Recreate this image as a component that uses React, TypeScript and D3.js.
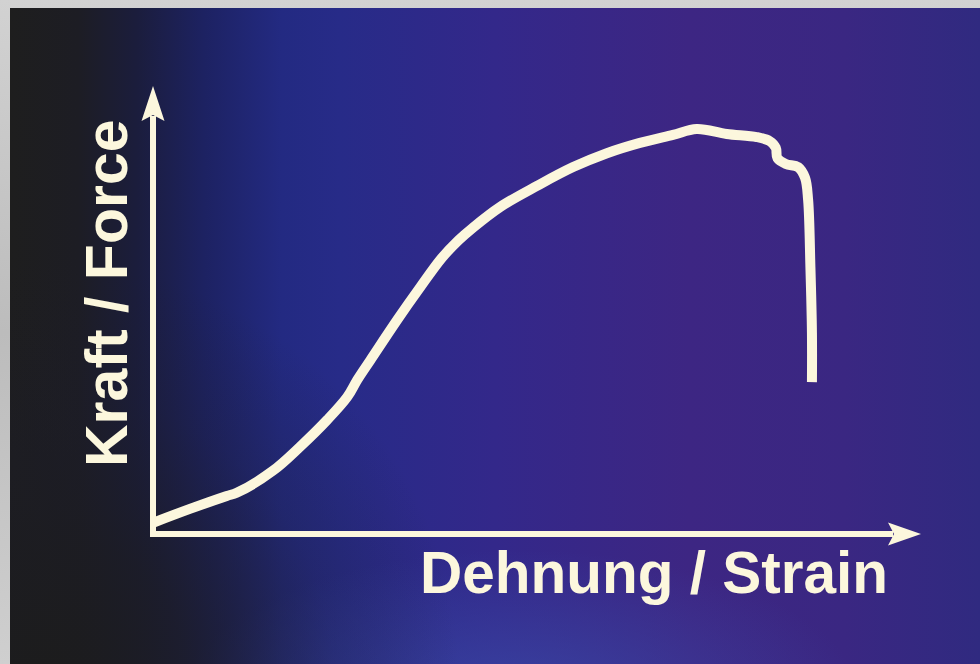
import React from "react";
import * as d3 from "d3";

const W = 980;
const H = 664;

// Strain (x) and force (y) readings, arbitrary units 0..100
const strain = [0, 4.8, 9.6, 10.9, 15.6, 19.1, 22.7, 25.3, 26.6, 28.3, 31.8, 34.8, 37.6, 39.8, 41.6, 45.2, 50.0, 54.7, 59.1, 63.4, 67.7, 70.8, 74.7, 78.6, 80.3, 81.1, 81.3, 82.4, 84.0, 84.9, 85.3, 85.6, 85.8, 85.8];
const force = [2.5, 5.6, 8.5, 9.2, 14.1, 19.4, 25.5, 30.6, 34.4, 38.8, 47.8, 55.1, 61.6, 65.6, 68.3, 73.0, 77.7, 81.9, 85.0, 87.3, 89.1, 90.4, 89.3, 88.6, 87.7, 86.2, 83.9, 82.6, 81.9, 79.5, 74.6, 59.6, 44.9, 33.9];

const xLabel = "Dehnung / Strain";
const yLabel = "Kraft / Force";

const cream = "#fcf7dd";

export default function App() {
  const x = d3.scaleLinear().domain([0, 100]).range([153, 921]);
  const y = d3.scaleLinear().domain([0, 100]).range([534, 86]);

  const pts: [number, number][] = strain.map((s, i) => [s, force[i]]);
  const line = d3
    .line<[number, number]>()
    .x((d) => x(d[0]))
    .y((d) => y(d[1]))
    .curve(d3.curveCatmullRom.alpha(0.5));

  const x0 = x(0);
  const y0 = y(0);
  const xEnd = x(100);
  const yEnd = y(100);

  const yArrow = `M${x0},${yEnd} L${x0 + 11.5},${yEnd + 35} L${x0},${yEnd + 29} L${x0 - 11.5},${yEnd + 35} Z`;
  const xArrow = `M${xEnd},${y0} L${xEnd - 33},${y0 + 11.5} L${xEnd - 27},${y0} L${xEnd - 33},${y0 - 11.5} Z`;

  return (
    <div style={{ position: "absolute", left: 0, top: 0, width: W, height: H }}>
      <svg width={W} height={H} viewBox={`0 0 ${W} ${H}`} style={{ display: "block" }}>
        <defs>
          <linearGradient id="frame" x1="0" y1="0" x2="0" y2="1">
            <stop offset="0" stopColor="#d2d2d2" />
            <stop offset="0.5" stopColor="#bcbcbc" />
            <stop offset="1" stopColor="#cfcfcf" />
          </linearGradient>
          <linearGradient id="bg" x1="10" y1="0" x2="980" y2="0" gradientUnits="userSpaceOnUse">
            <stop offset="0" stopColor="#1e1e1e" />
            <stop offset="0.07" stopColor="#1d1d24" />
            <stop offset="0.13" stopColor="#1b1d3c" />
            <stop offset="0.2" stopColor="#1d2262" />
            <stop offset="0.28" stopColor="#232a82" />
            <stop offset="0.34" stopColor="#272b88" />
            <stop offset="0.5" stopColor="#33288a" />
            <stop offset="0.7" stopColor="#3d2683" />
            <stop offset="0.86" stopColor="#3a2782" />
            <stop offset="1" stopColor="#302a80" />
          </linearGradient>
          <radialGradient id="darkCorner" cx="40" cy="680" r="420" gradientUnits="userSpaceOnUse">
            <stop offset="0" stopColor="#1c1c1c" stopOpacity="0.95" />
            <stop offset="0.35" stopColor="#1c1c22" stopOpacity="0.75" />
            <stop offset="0.7" stopColor="#1c1c2a" stopOpacity="0.25" />
            <stop offset="1" stopColor="#1c1c2a" stopOpacity="0" />
          </radialGradient>
          <radialGradient id="glow" cx="0.5" cy="0.5" r="0.5">
            <stop offset="0" stopColor="#3a4aa8" stopOpacity="0.75" />
            <stop offset="1" stopColor="#3a4aa8" stopOpacity="0" />
          </radialGradient>
        </defs>

        <rect x={0} y={0} width={W} height={H} fill="url(#frame)" />
        <rect x={10} y={8} width={W - 10} height={H - 8} fill="url(#bg)" />
        <ellipse cx={520} cy={700} rx={340} ry={150} fill="url(#glow)" />
        <rect x={10} y={8} width={W - 10} height={H - 8} fill="url(#darkCorner)" />

        {/* axes */}
        <line x1={x0} y1={y0 + 3} x2={x0} y2={yEnd + 30} stroke={cream} strokeWidth={6} />
        <line x1={x0 - 3} y1={y0} x2={xEnd - 28} y2={y0} stroke={cream} strokeWidth={6} />
        <path d={yArrow} fill={cream} />
        <path d={xArrow} fill={cream} />

        {/* curve */}
        <path
          d={line(pts) || ""}
          fill="none"
          stroke={cream}
          strokeWidth={10}
          strokeLinejoin="round"
          strokeLinecap="butt"
        />

        {/* labels */}
        <text
          x={888}
          y={593}
          textAnchor="end"
          fontFamily="'Liberation Sans', Arial, sans-serif"
          fontWeight="bold"
          fontSize={58.5}
          fill={cream}
        >
          {xLabel}
        </text>
        <text
          transform="translate(127,467) rotate(-90)"
          textAnchor="start"
          fontFamily="'Liberation Sans', Arial, sans-serif"
          fontWeight="bold"
          fontSize={59}
          fill={cream}
        >
          {yLabel}
        </text>
      </svg>
    </div>
  );
}
